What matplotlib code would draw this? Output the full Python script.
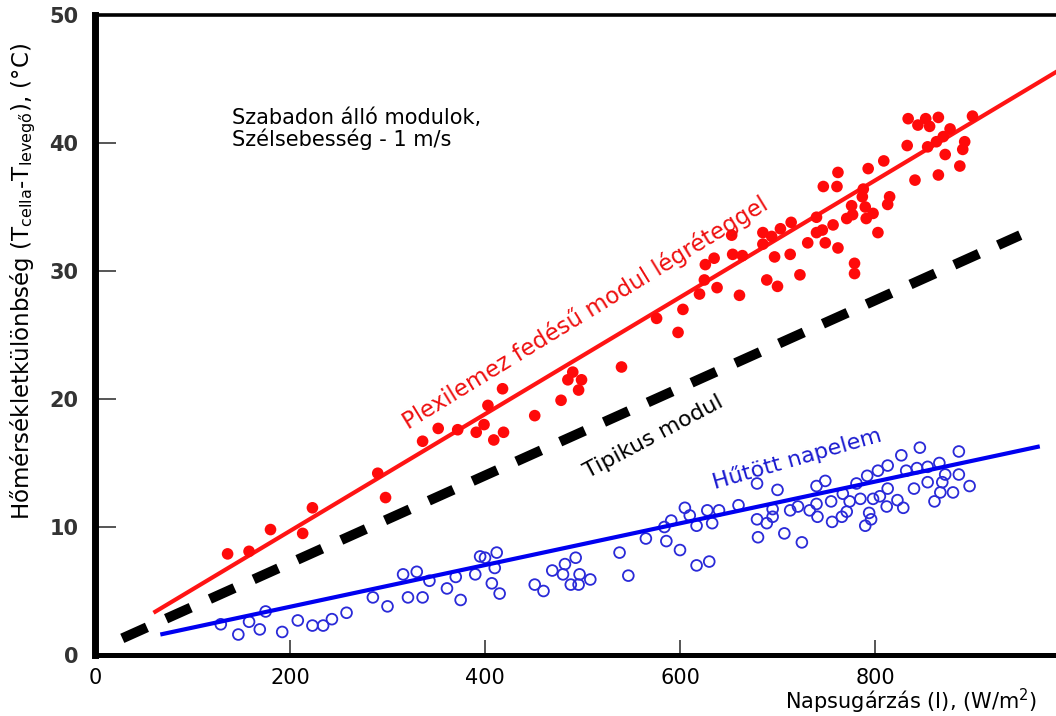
import matplotlib
matplotlib.use('Agg')
import matplotlib.pyplot as plt

# ---------------- data ----------------
plexi_x = [136, 158, 180, 213, 223, 290, 298, 336, 352, 372, 391, 399, 403, 409, 418, 419,
           451, 478, 485, 490, 499, 496, 540, 576, 598, 603, 620, 625, 626, 635, 638, 661,
           653, 654, 664, 685, 694, 685, 703, 714, 697, 713, 723, 689, 700, 731, 749, 762,
           740, 746, 740, 757, 779, 779, 747, 761, 762, 793, 809, 788, 787, 815, 813, 776,
           790, 798, 777, 771, 791, 803, 841, 865, 887, 872, 890, 892, 870, 863, 854, 833,
           834, 844, 852, 865, 856, 877, 900]
plexi_y = [7.9, 8.1, 9.8, 9.5, 11.5, 14.2, 12.3, 16.7, 17.7, 17.6, 17.4, 18.0, 19.5, 16.8, 20.8, 17.4,
           18.7, 19.9, 21.5, 22.1, 21.5, 20.7, 22.5, 26.3, 25.2, 27.0, 28.2, 29.3, 30.5, 31.0, 28.7, 28.1,
           32.8, 31.3, 31.2, 33.0, 32.7, 32.1, 33.3, 33.8, 31.1, 31.3, 29.7, 29.3, 28.8, 32.2, 32.2, 31.8,
           34.2, 33.2, 33.0, 33.6, 30.6, 29.8, 36.6, 36.6, 37.7, 38.0, 38.6, 36.4, 35.8, 35.8, 35.2, 35.1,
           35.0, 34.5, 34.4, 34.1, 34.1, 33.0, 37.1, 37.5, 38.2, 39.1, 39.5, 40.1, 40.5, 40.1, 39.7, 39.8,
           41.9, 41.4, 41.9, 42.0, 41.3, 41.1, 42.1]

cooled_x = [129, 147, 158, 169, 175, 192, 208, 223, 234, 243, 258, 285, 300, 316, 330, 343,
            321, 336, 361, 375, 370, 390, 395, 400, 412, 410, 407, 415, 451, 460, 469, 482,
            493, 480, 497, 488, 496, 508, 538, 547, 565, 586, 600, 584, 591, 605, 610, 617,
            628, 633, 640, 617, 630, 660, 679, 700, 679, 689, 695, 695, 680, 707, 725, 713,
            721, 733, 740, 740, 749, 741, 755, 756, 767, 774, 771, 766, 781, 785, 792, 794,
            796, 790, 798, 803, 812, 813, 823, 829, 813, 827, 832, 843, 846, 840, 854, 854,
            866, 872, 869, 861, 867, 880, 886, 886, 897, 805]
cooled_y = [2.4, 1.6, 2.6, 2.0, 3.4, 1.8, 2.7, 2.3, 2.3, 2.8, 3.3, 4.5, 3.8, 6.3, 6.5, 5.8,
            4.5, 4.5, 5.2, 4.3, 6.1, 6.3, 7.7, 7.6, 8.0, 6.8, 5.6, 4.8, 5.5, 5.0, 6.6, 7.1,
            7.6, 6.3, 6.3, 5.5, 5.5, 5.9, 8.0, 6.2, 9.1, 8.9, 8.2, 10.0, 10.5, 11.5, 10.9, 10.1,
            11.3, 10.3, 11.3, 7.0, 7.3, 11.7, 13.4, 12.9, 10.6, 10.3, 10.8, 11.4, 9.2, 9.5, 8.8, 11.3,
            11.6, 11.3, 11.8, 13.2, 13.6, 10.8, 12.0, 10.4, 12.6, 12.0, 11.2, 10.8, 13.4, 12.2, 14.0, 11.1,
            10.6, 10.1, 12.2, 14.4, 11.6, 13.0, 12.1, 11.5, 14.8, 15.6, 14.4, 14.6, 16.2, 13.0, 14.7, 13.5,
            15.0, 14.1, 13.5, 12.0, 12.7, 12.7, 14.1, 15.9, 13.2, 12.4]

plexi_fit_x = [60, 1000]
plexi_fit_y = [3.3, 46.2]
typical_x = [28, 949]
typical_y = [1.3, 32.8]
cooled_fit_x = [67, 969]
cooled_fit_y = [1.6, 16.3]

x_ticks = [0, 200, 400, 600, 800]
y_ticks = [0, 10, 20, 30, 40, 50]

# ---------------- figure ----------------
W, H = 1056, 716
fig = plt.figure(figsize=(W / 100, H / 100), dpi=100)
ax = fig.add_axes([95 / W, 61 / H, 975 / W, 640 / H])
ax.set_xlim(0, 1000)
ax.set_ylim(0, 50)

ax.plot(plexi_fit_x, plexi_fit_y, color='#ff1414', lw=3, solid_capstyle='butt', zorder=3)
ax.plot(typical_x, typical_y, color='black', lw=7.2, dashes=(2.7, 2.1),
        dash_capstyle='butt', zorder=3)
ax.plot(cooled_fit_x, cooled_fit_y, color='#0000f0', lw=3, solid_capstyle='butt', zorder=3)

ax.scatter(plexi_x, plexi_y, s=70, color='#ff0a0a', edgecolors='none', zorder=4)
ax.scatter(cooled_x, cooled_y, s=60, facecolors='none', edgecolors='#2a2ad8',
           linewidths=1.3, zorder=2)

# spines
ax.spines['right'].set_visible(False)
ax.spines['left'].set_linewidth(5)
ax.spines['bottom'].set_linewidth(3.6)
ax.spines['top'].set_linewidth(2.6)
for s in ax.spines.values():
    s.set_color('black')

ax.set_xticks(x_ticks)
ax.set_yticks(y_ticks)
ax.tick_params(axis='y', direction='in', length=15, width=1.4, color='#555555',
               labelsize=15, pad=12, labelcolor='#333333')
ax.tick_params(axis='x', direction='in', length=11, width=1.4, color='#555555',
               labelsize=15, pad=9, labelcolor='black')
for lab in ax.get_yticklabels():
    lab.set_fontweight('bold')

# axis titles
fig.text(1037 / W, 7 / H, r'Napsugárzás (I), (W/m$^{2}$)', ha='right', va='baseline',
         fontsize=15)
fig.text(23 / W, 1 - 281 / H,
         r'Hőmérsékletkülönbség (T$_{\mathregular{cella}}$-T$_{\mathregular{levegő}}$), (°C)',
         rotation=90, ha='center', va='center', fontsize=16.5)

# annotations
fig.text(232 / W, 1 - 108 / H, 'Szabadon álló modulok,\nSzélsebesség - 1 m/s',
         ha='left', va='top', fontsize=15, linespacing=1.05)
fig.text(585 / W, 1 - 313 / H, 'Plexilemez fedésű modul légréteggel', color='#ee1010',
         rotation=31.5, ha='center', va='center', fontsize=16.5)
fig.text(654 / W, 1 - 437 / H, 'Tipikus modul', color='black',
         rotation=28, ha='center', va='center', fontsize=16)
fig.text(797 / W, 1 - 459 / H, 'Hűtött napelem', color='#1a1ad0',
         rotation=16, ha='center', va='center', fontsize=16)

fig.savefig('out.png', dpi=100)
